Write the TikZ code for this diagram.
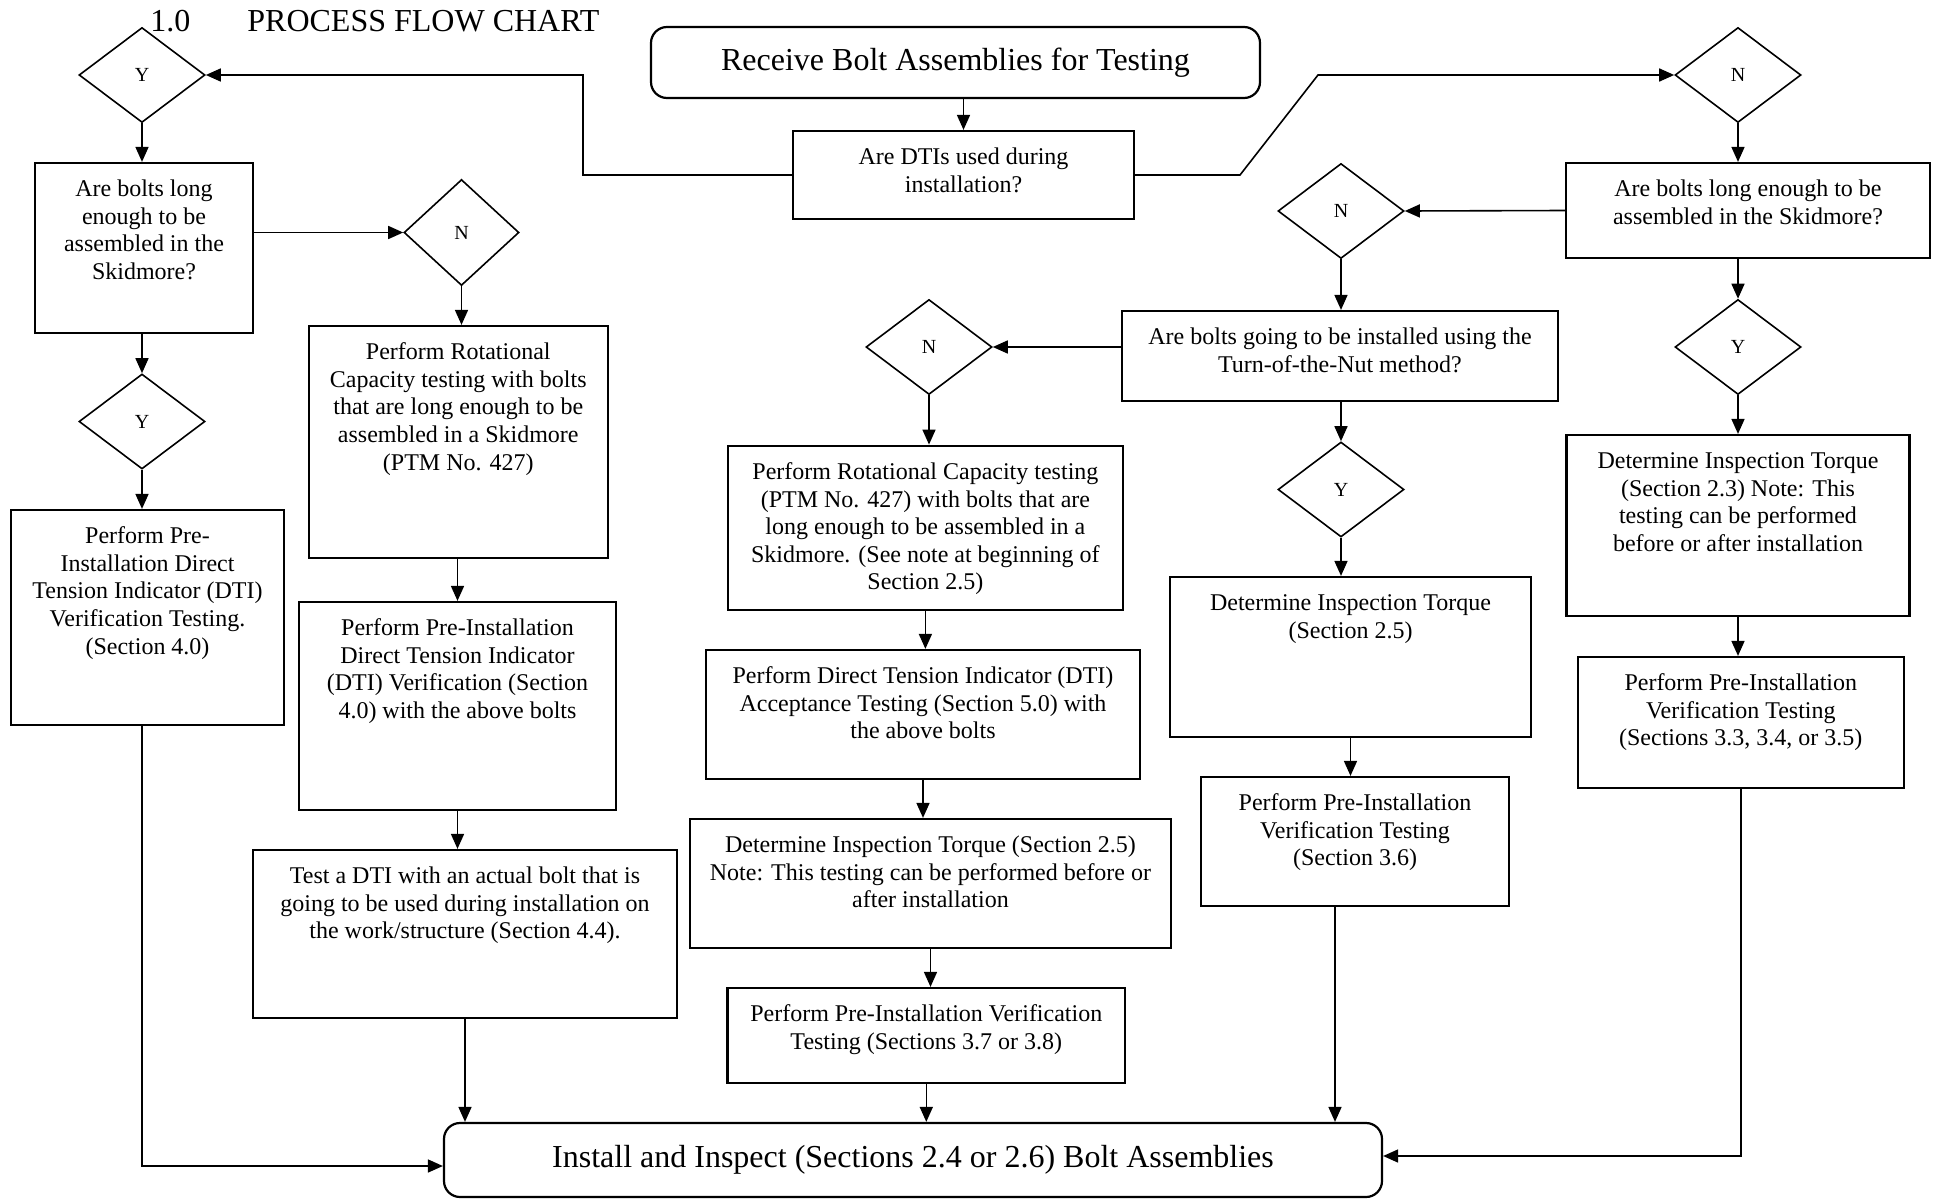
\documentclass[tikz,border=0pt]{standalone}
\usepackage{fontspec}
\setmainfont{Liberation Serif}
\usetikzlibrary{shapes.geometric, arrows.meta, positioning}
\newcommand{\toptxt}[3]{\parbox[c][#2][t]{#1}{\centering\vspace*{7.2pt}\strut #3}}

\begin{document}
\begin{tikzpicture}[x=0.5pt, y=-0.5pt, font=\fontsize{12}{13.8}\selectfont]
 % We define the styles for the boxes, the decisions and the arrows
 \tikzset{
block/.style = {draw, rectangle, line width=1.1pt, inner sep=0pt},
term/.style = {draw, rectangle, rounded corners=8pt, line width=1.1pt, inner sep=0pt, font=\fontsize{16}{19}\selectfont},
choice/.style = {draw, diamond, line width=0.8pt, inner sep=0pt, minimum width=63pt, minimum height=47.5pt, font=\fontsize{10}{12}\selectfont},
line/.style = {draw, -{Triangle[length=7.5pt, width=6.5pt]}, line width=0.8pt},
}
 \useasboundingbox (0,0) rectangle (1935,1199);

 % Title
 \node [anchor=base west, inner sep=0pt, font=\fontsize{16}{19}\selectfont] (title) at (150,31.7) {1.0\hspace{28.5pt}PROCESS FLOW CHART};

 % Start and first question
 \node [term, minimum width=304.5pt, minimum height=35.5pt] (recv) at (955.5,62.5) {Receive Bolt Assemblies for Testing};
 \node [block] (dti) at (963.5,175) {\toptxt{170.5pt}{44pt}{Are DTIs used during\\installation?}};

 % DTIs used: left branch
 \node [choice] (yA) at (142,75) {Y};
 \node [block] (longA) at (144,248) {\toptxt{109pt}{85pt}{Are bolts long\\enough to be\\assembled in the\\Skidmore?}};
 \node [choice] (yB) at (142,421.5) {Y};
 \node [block] (preA) at (147.5,617.5) {\toptxt{136.5pt}{107.5pt}{Perform Pre-\\Installation Direct\\Tension Indicator (DTI)\\Verification Testing.\\(Section 4.0)}};
 \node [choice, minimum width=57.5pt, minimum height=53pt] (nA) at (461.5,232.5) {N};
 \node [block] (rotA) at (458.3,442) {\toptxt{149.3pt}{116pt}{Perform Rotational\\Capacity testing with bolts\\that are long enough to be\\assembled in a Skidmore\\(PTM No. 427)}};
 \node [block] (preB) at (457.5,706) {\toptxt{158.5pt}{104pt}{Perform Pre-Installation\\Direct Tension Indicator\\(DTI) Verification (Section\\4.0) with the above bolts}};
 \node [block] (testA) at (465,934) {\toptxt{212pt}{84pt}{Test a DTI with an actual bolt that is\\going to be used during installation on\\the work/structure (Section 4.4).}};

 % DTIs not used: right branch
 \node [choice] (nD) at (1738,75) {N};
 \node [block] (longB) at (1748,210.5) {\toptxt{181.8pt}{47.5pt}{Are bolts long enough to be\\assembled in the Skidmore?}};
 \node [choice] (yD) at (1738,347) {Y};
 \node [block] (torqD) at (1738,525.5) {\toptxt{171.5pt}{90.5pt}{Determine Inspection Torque\\(Section 2.3) Note: This\\testing can be performed\\before or after installation}};
 \node [block] (preE) at (1740.8,722.5) {\toptxt{162.8pt}{65.5pt}{Perform Pre-Installation\\Verification Testing\\(Sections 3.3, 3.4, or 3.5)}};

 % Bolts too short: turn-of-the-nut question
 \node [choice] (nB) at (1341,211) {N};
 \node [block] (turn) at (1340,356) {\toptxt{218pt}{45pt}{Are bolts going to be installed using the\\Turn-of-the-Nut method?}};
 \node [choice] (yC) at (1341,489.5) {Y};
 \node [block] (torqC) at (1350.5,657) {\toptxt{180.5pt}{80pt}{Determine Inspection Torque\\(Section 2.5)}};
 \node [block] (preD) at (1355,841.5) {\toptxt{153.8pt}{64.5pt}{Perform Pre-Installation\\Verification Testing\\(Section 3.6)}};

 % Not turn-of-the-nut
 \node [choice] (nC) at (929,347) {N};
 \node [block] (rotB) at (925.4,527.9) {\toptxt{197.7pt}{82.2pt}{Perform Rotational Capacity testing\\(PTM No. 427) with bolts that are\\long enough to be assembled in a\\Skidmore. (See note at beginning of\\Section 2.5)}};
 \node [block] (accB) at (923,714.5) {\toptxt{217pt}{64.5pt}{Perform Direct Tension Indicator (DTI)\\Acceptance Testing (Section 5.0) with\\the above bolts}};
 \node [block] (torqB) at (930.5,883.5) {\toptxt{240.5pt}{64.5pt}{Determine Inspection Torque (Section 2.5)\\Note: This testing can be performed before or\\after installation}};
 \node [block] (preC) at (926.3,1035.5) {\toptxt{198.8pt}{47.5pt}{Perform Pre-Installation Verification\\Testing (Sections 3.7 or 3.8)}};

 % End
 \node [term, minimum width=469pt, minimum height=37pt] (install) at (913,1160) {Install and Inspect (Sections 2.4 or 2.6) Bolt Assemblies};

 % Bend points
 \coordinate (bendL) at (583,75);
 \coordinate (kneeA) at (1240,175);
 \coordinate (kneeB) at (1318,75);
 \coordinate (preDout) at ([xshift=-10pt]preD.south);

 % Arrows
 \draw [line] (dti.north |- recv.south) -- (dti.north);
 \draw [line] (dti.west) -| (bendL) -- (yA.east);
 \draw [line] (dti.east) -- (kneeA) -- (kneeB) -- (nD.west);

 \draw [line] (yA.south) -- (yA.south |- longA.north);
 \draw [line] (longA.east |- nA.west) -- (nA.west);
 \draw [line] (nA.south) -- (nA.south |- rotA.north);
 \draw [line] (yB.north |- longA.south) -- (yB.north);
 \draw [line] (yB.south) -- (yB.south |- preA.north);
 \draw [line] (preB.north |- rotA.south) -- (preB.north);
 \draw [line] (preB.south) -- (preB.south |- testA.north);
 \draw [line] (testA.south) -- (testA.south |- install.north);
 \draw [line] (yB.south |- preA.south) |- ([yshift=-3pt]install.west);

 \draw [line] (nD.south) -- (nD.south |- longB.north);
 \draw [line] (yD.north |- longB.south) -- (yD.north);
 \draw [line] (yD.south) -- (yD.south |- torqD.north);
 \draw [line] (torqD.south) -- (torqD.south |- preE.north);
 \draw [line] (preE.south) |- ([yshift=2pt]install.east);

 \draw [line] (longB.west) -- (nB.east);
 \draw [line] (nB.south) -- (nB.south |- turn.north);
 \draw [line] (yC.north |- turn.south) -- (yC.north);
 \draw [line] (yC.south) -- (yC.south |- torqC.north);
 \draw [line] (torqC.south) -- (torqC.south |- preD.north);
 \draw [line] (preDout) -- (preDout |- install.north);

 \draw [line] (turn.west |- nC.east) -- (nC.east);
 \draw [line] (nC.south) -- (nC.south |- rotB.north);
 \draw [line] (rotB.south) -- (rotB.south |- accB.north);
 \draw [line] (accB.south) -- (accB.south |- torqB.north);
 \draw [line] (torqB.south) -- (torqB.south |- preC.north);
 \draw [line] (preC.south) -- (preC.south |- install.north);

\end{tikzpicture}
\end{document}
